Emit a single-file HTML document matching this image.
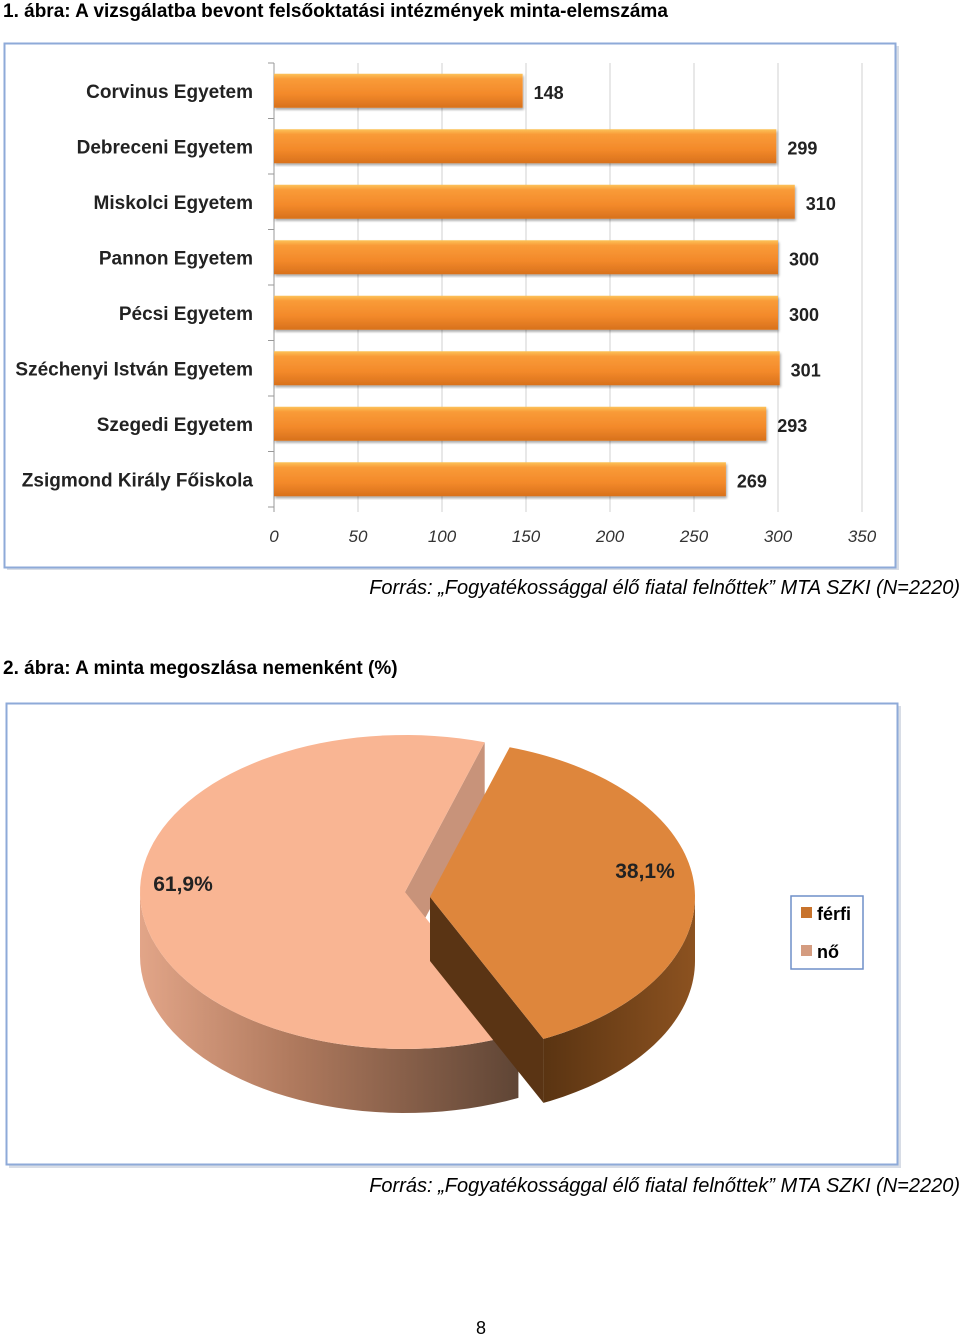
<!DOCTYPE html>
<html><head><meta charset="utf-8">
<style>
body{margin:0;background:#fff;width:960px;height:1339px;position:relative;font-family:"Liberation Sans",sans-serif;overflow:hidden}
.t{position:absolute;font-weight:bold;font-size:19px;color:#000;white-space:nowrap}
.src{position:absolute;font-style:italic;font-size:20px;color:#000;white-space:nowrap;right:0}
</style></head><body>
<div class="t" style="left:3px;top:1px">1. ábra: A vizsgálatba bevont felsőoktatási intézmények minta-elemszáma</div>
<svg style="position:absolute;left:0;top:40px" width="960" height="535" id="bars">
<defs>
<linearGradient id="bg" x1="0" y1="0" x2="0" y2="1">
<stop offset="0" stop-color="#FCC35A"/><stop offset="0.15" stop-color="#F99B38"/><stop offset="0.6" stop-color="#F3892A"/><stop offset="1" stop-color="#D8711C"/></linearGradient>
<filter id="sh"><feDropShadow dx="1" dy="2" stdDeviation="1.2" flood-opacity="0.35"/></filter>
</defs>
<rect x="7" y="6" width="892" height="524" fill="#d8dde6"/>
<rect x="4.5" y="3.5" width="891" height="524" fill="#fff" stroke="#8eaad8" stroke-width="2"/>
</svg>
<div class="src" style="top:577px;right:0">Forrás: „Fogyatékossággal élő fiatal felnőttek” MTA SZKI (N=2220)</div>
<div class="t" style="left:3px;top:658px">2. ábra: A minta megoszlása nemenként (%)</div>
<svg style="position:absolute;left:0;top:700px" width="960" height="470" id="pie">
<defs>
<linearGradient id="ls" x1="0" y1="0" x2="1" y2="0"><stop offset="0" stop-color="#E2A588"/><stop offset="0.4" stop-color="#B07A5E"/><stop offset="1" stop-color="#5F4535"/></linearGradient>
<linearGradient id="os" x1="0" y1="0" x2="1" y2="0"><stop offset="0" stop-color="#5A3412"/><stop offset="1" stop-color="#8C5220"/></linearGradient>
</defs>
<rect x="9" y="6" width="892" height="462" fill="#d8dde6"/>
<rect x="6.5" y="3.5" width="891" height="461" fill="#fff" stroke="#8eaad8" stroke-width="2"/>
<g id="pieg"></g>
<rect x="791" y="196" width="72" height="73" fill="#fff" stroke="#6f8fc8" stroke-width="1.5"/>
<rect x="801" y="207" width="11" height="11" fill="#C8732C"/>
<text x="817" y="220" font-size="18" font-weight="bold" font-family="Liberation Sans">férfi</text>
<rect x="801" y="245" width="11" height="11" fill="#D49C80"/>
<text x="817" y="258" font-size="18" font-weight="bold" font-family="Liberation Sans">nő</text>
</svg>
<div class="src" style="top:1175px;right:0">Forrás: „Fogyatékossággal élő fiatal felnőttek” MTA SZKI (N=2220)</div>
<div style="position:absolute;left:476px;top:1318px;font-size:18px">8</div>
<script>
const categories=["Corvinus Egyetem","Debreceni Egyetem","Miskolci Egyetem","Pannon Egyetem","Pécsi Egyetem","Széchenyi István Egyetem","Szegedi Egyetem","Zsigmond Király Főiskola"];
const values=[148,299,310,300,300,301,293,269];
const ticks=[0,50,100,150,200,250,300,350];
const NS="http://www.w3.org/2000/svg";
const svg=document.getElementById('bars');
function mk(tag,attrs,parent){const e=document.createElementNS(NS,tag);for(const k in attrs)e.setAttribute(k,attrs[k]);(parent||svg).appendChild(e);return e;}
const x0=274,x1=862,top0=23,bot=467;
const xs=v=>x0+(v/350)*(x1-x0);
const band=(bot-top0)/categories.length;
ticks.forEach(t=>{
 const l=mk('line',{x1:xs(t),x2:xs(t),y1:top0,y2:bot+5,stroke:t===0?'#999':'#d0d0d0','stroke-width':1});
 
 
 const tx=mk('text',{x:xs(t),y:bot+35,'text-anchor':'middle','font-size':17,'font-style':'italic',fill:'#333','font-family':'Liberation Sans'});
 tx.textContent=t;
 
 
});
for(let i=0;i<=categories.length;i++){
 const l=mk('line',{x1:x0-6,x2:x0,y1:top0+i*band,y2:top0+i*band,stroke:'#999'});
 
 
}
categories.forEach((c,i)=>{
 const cy=top0+band*(i+0.5);
 const r=mk('rect',{x:x0,y:cy-17,width:xs(values[i])-x0,height:34,fill:'url(#bg)',filter:'url(#sh)'});
 
 
 const lb=mk('text',{x:253,y:cy+7,'text-anchor':'end','font-size':19,'font-weight':'bold',fill:'#222','font-family':'Liberation Sans'});
 lb.textContent=c;
 
 
 const vl=mk('text',{x:xs(values[i])+11,y:cy+8,'font-size':18,'font-weight':'bold',fill:'#222','font-family':'Liberation Sans'});
 vl.textContent=values[i];
 
 
});

// pie
const pieLabels=["férfi","nő"];
const pieValues=[38.1,61.9];
const pg=document.getElementById('pieg');
const rx=265,ry=157,depth=64,startDeg=-72.5;
const cen=[[430,197],[405,192]];
const fills=['#DE863C','#F9B593'];
const sideF=['url(#os)','url(#ls)'];
const cutF=['#5A3414','#C8937A'];
function pt(c,a){return [c[0]+rx*Math.cos(a),c[1]+ry*Math.sin(a)];}
let a=startDeg*Math.PI/180;
const angs=[];
pieValues.forEach(v=>{const b=a+v/100*2*Math.PI;angs.push([a,b]);a=b;});
[1,0].forEach(i=>{
 const c=cen[i],[a1,a2]=angs[i];
 // cut face at end edge
 const p=pt(c,a2);
 const cf=mk('path',{d:`M${c[0]},${c[1]}L${p[0]},${p[1]}L${p[0]},${p[1]+depth}L${c[0]},${c[1]+depth}Z`,fill:cutF[i]},pg);
 
 
 const segs=[];
 for(let k=-1;k<=2;k++){const lo=Math.max(a1,k*2*Math.PI),hi=Math.min(a2,k*2*Math.PI+Math.PI);if(hi>lo)segs.push([lo,hi]);}
 segs.forEach(([lo,hi])=>{
  let d='';const n=40;
  for(let j=0;j<=n;j++){const q=pt(c,lo+(hi-lo)*j/n);d+=(j?'L':'M')+q[0]+','+q[1];}
  for(let j=n;j>=0;j--){const q=pt(c,lo+(hi-lo)*j/n);d+='L'+q[0]+','+(q[1]+depth);}
  const sp=mk('path',{d:d+'Z',fill:sideF[i]},pg);
  
  
 });
 let d=`M${c[0]},${c[1]}`;const n=80;
 for(let j=0;j<=n;j++){const q=pt(c,a1+(a2-a1)*j/n);d+='L'+q[0]+','+q[1];}
 const tp=mk('path',{d:d+'Z',fill:fills[i]},pg);
 
 
});
const lpos=[[645,178],[183,191]];
pieValues.forEach((v,i)=>{
 const t=mk('text',{x:lpos[i][0],y:lpos[i][1],'text-anchor':'middle','font-size':21,'font-weight':'bold',fill:'#222','font-family':'Liberation Sans'},pg);
 t.textContent=v.toFixed(1).replace('.',',')+'%';
 
 
});
</script>
</body></html>
